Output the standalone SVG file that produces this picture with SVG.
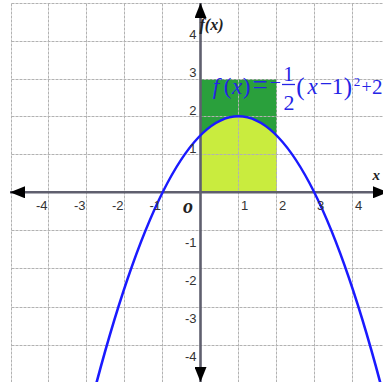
<svg xmlns="http://www.w3.org/2000/svg" width="383" height="382" viewBox="0 0 383 382">
  <defs>
    <marker id="arrow" viewBox="0 0 15 12" refX="15" refY="6" markerWidth="15" markerHeight="12" markerUnits="userSpaceOnUse" orient="auto-start-reverse">
      <path d="M0,0 L15,6 L0,12 Z" fill="#000"/>
    </marker>
    <style>
      .grid { stroke: #b2b2b2; stroke-width: 1; stroke-dasharray: 3 1; fill: none; }
      .axis { stroke: #5f5f6e; stroke-width: 2.6; fill: none; }
      .num { font-family: "Liberation Sans", Arial, sans-serif; font-size: 13px; fill: #333; }
      .lbl { font-family: "Liberation Serif", "Times New Roman", serif; font-weight: bold; font-style: italic; fill: #222; }
      .fm { font-family: "Liberation Serif", "Times New Roman", serif; fill: #2424e6; text-anchor: middle; font-size: 23px; }
      .it { font-style: italic; }
    </style>
  </defs>
  <rect width="383" height="382" fill="#fff"/>

  <g id="region">
    <rect x="200.5" y="79" width="76.5" height="113.3" fill="#2aa03c"/>
    <path d="M200.5,192.3 L200.5,135.3 Q238.5,97.3 277,136 L277,192.3 Z" fill="#c9ec3e"/>
  </g>

  <g id="grid">
    <path class="grid" d="M11.5,3.5 V382 M48.5,3.5 V382 M86.5,3.5 V382 M124.5,3.5 V382 M162.5,3.5 V382 M238.5,3.5 V382 M276.5,3.5 V382 M314.5,3.5 V382 M352.5,3.5 V382 M200.5,3.5 V382"/>
    <path class="grid" d="M11.5,3.5 H383 M11.5,41.5 H383 M11.5,79.5 H383 M11.5,116.5 H383 M11.5,154.5 H383 M11.5,230.5 H383 M11.5,268.5 H383 M11.5,307.5 H383 M11.5,345.5 H383"/>
  </g>

  <g id="axes">
    <line class="axis" x1="10" y1="192.3" x2="388" y2="192.3" marker-start="url(#arrow)" marker-end="url(#arrow)"/>
    <line class="axis" x1="200.5" y1="3" x2="200.5" y2="382" marker-start="url(#arrow)" marker-end="url(#arrow)"/>
  </g>

  <g id="curve">
    <path d="M94.4,390.7 Q238.5,-158.1 382.4,390.7" fill="none" stroke="#1a1aff" stroke-width="2.6"/>
  </g>

  <g id="xlabels" class="num">
    <text x="47.5" y="210" text-anchor="end">-4</text>
    <text x="85.5" y="210" text-anchor="end">-3</text>
    <text x="123.5" y="210" text-anchor="end">-2</text>
    <text x="161" y="210" text-anchor="end">-1</text>
    <text x="241" y="210">1</text>
    <text x="279" y="210">2</text>
    <text x="317" y="210">3</text>
    <text x="355" y="210">4</text>
  </g>

  <g id="ylabels" class="num" text-anchor="end">
    <text x="196.5" y="38.5">4</text>
    <text x="196.5" y="76.5">3</text>
    <text x="196.5" y="114.5">2</text>
    <text x="196.5" y="152.5">1</text>
    <text x="196.5" y="246.5">-1</text>
    <text x="196.5" y="284.5">-2</text>
    <text x="196.5" y="323">-3</text>
    <text x="196.5" y="361">-4</text>
  </g>

  <g id="axis-names" class="lbl">
    <text x="199.5" y="30" font-size="16">f(x)</text>
    <text x="372.5" y="180" font-size="15">x</text>
    <text x="183" y="213" font-size="20">o</text>
  </g>

  <g id="formula" class="fm">
    <text x="216" y="94" class="it">f</text>
    <text x="227.5" y="94">(</text>
    <text x="237" y="94" class="it">x</text>
    <text x="246.5" y="94">)</text>
    <text x="260" y="94" font-size="27">=</text>
    <text x="275.5" y="89" font-size="20">−</text>
    <text x="288.5" y="81" font-size="21">1</text>
    <line x1="282" y1="84.5" x2="295" y2="84.5" stroke="#2424e6" stroke-width="1.3"/>
    <text x="289" y="110" font-size="22">2</text>
    <text x="300.5" y="95" font-size="25">(</text>
    <text x="312.5" y="94" class="it">x</text>
    <text x="326" y="91" font-size="22">−</text>
    <text x="337.5" y="94">1</text>
    <text x="348" y="95" font-size="25">)</text>
    <text x="357" y="86" font-size="13">2</text>
    <text x="366.5" y="93" font-size="18">+</text>
    <text x="377.2" y="94" font-size="21">2</text>
  </g>
</svg>
